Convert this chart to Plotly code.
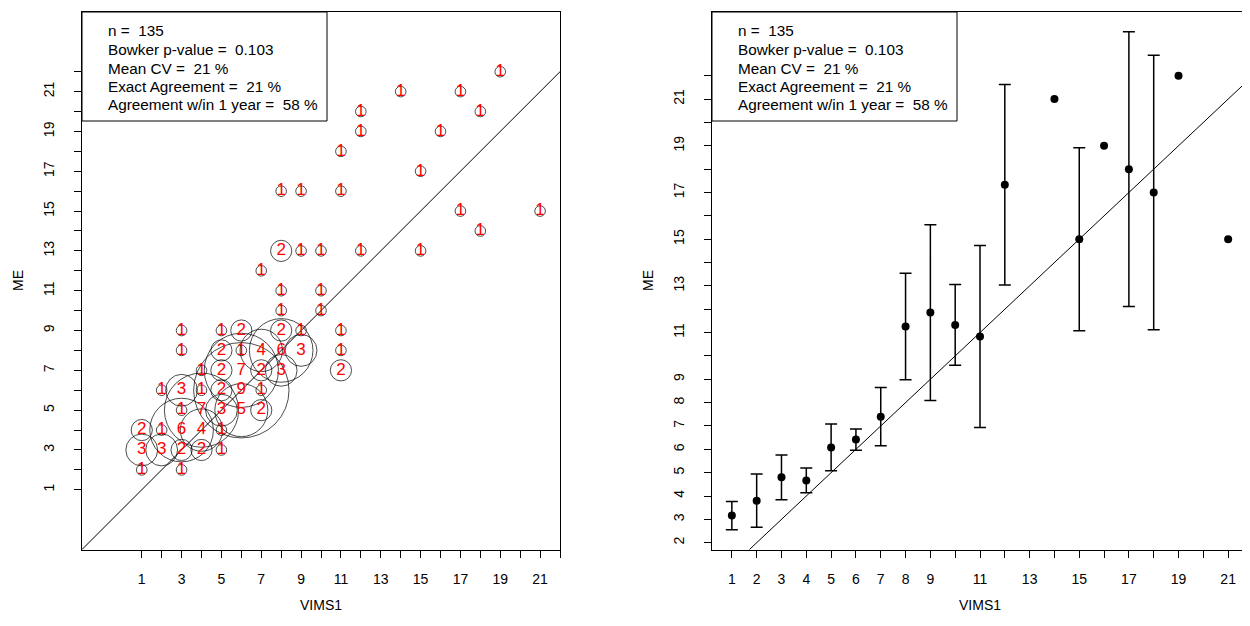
import plotly.graph_objects as go

W, H = 1250, 626
FONT = "Liberation Sans, Arial, sans-serif"
OFF = 8  # page body margin offset

# ---------------- Left panel: VIMS1 vs ME age pairs with counts ----------------
vims1 = [19, 14, 17, 12, 18, 12, 16, 11, 15, 8, 9, 11, 17, 21, 18, 8, 9, 10, 12, 15, 7, 8, 10, 8, 10,
         3, 5, 6, 8, 9, 11,
         3, 5, 6, 7, 8, 9, 11,
         4, 5, 6, 7, 8, 11,
         2, 3, 4, 5, 6, 7,
         3, 4, 5, 6, 7,
         1, 2, 3, 4, 5,
         1, 2, 3, 4, 5,
         1, 3]
me = [22, 21, 21, 20, 20, 19, 19, 18, 17, 16, 16, 16, 15, 15, 14, 13, 13, 13, 13, 13, 12, 11, 11, 10, 10,
      9, 9, 9, 9, 9, 9,
      8, 8, 8, 8, 8, 8, 8,
      7, 7, 7, 7, 7, 7,
      6, 6, 6, 6, 6, 6,
      5, 5, 5, 5, 5,
      4, 4, 4, 4, 4,
      3, 3, 3, 3, 3,
      2, 2]
n_pairs = [1, 1, 1, 1, 1, 1, 1, 1, 1, 1, 1, 1, 1, 1, 1, 2, 1, 1, 1, 1, 1, 1, 1, 1, 1,
           1, 1, 2, 2, 1, 1,
           1, 2, 1, 4, 6, 3, 1,
           1, 2, 7, 2, 3, 2,
           1, 3, 1, 2, 9, 1,
           1, 7, 3, 5, 2,
           2, 1, 6, 4, 1,
           3, 3, 2, 2, 1,
           1, 1]

# ---------------- Right panel: mean ME (95% CI) per VIMS1 age ----------------
ab_age = [1, 2, 3, 4, 5, 6, 7, 8, 9, 10, 11, 12, 15, 17, 18]
ab_mean = [3.17, 3.80, 4.80, 4.67, 6.08, 6.42, 7.40, 11.26, 11.86, 11.33, 10.83, 17.33, 15.0, 18.0, 17.0]
ab_lci = [2.56, 2.66, 3.84, 4.14, 5.08, 5.96, 6.15, 8.98, 8.09, 9.60, 6.93, 13.04, 11.08, 12.12, 11.12]
ab_uci = [3.77, 4.94, 5.76, 5.20, 7.09, 6.87, 8.65, 13.54, 15.62, 13.06, 14.73, 21.62, 18.92, 23.88, 22.88]
single_age = [14, 16, 19, 21]
single_me = [21, 19, 22, 15]

stats_lines = ["n =\u00a0 135", "Bowker p-value =\u00a0 0.103", "Mean CV =\u00a0 21 %",
               "Exact Agreement =\u00a0 21 %", "Agreement w/in 1 year =\u00a0 58 %"]

left_xrange = [-2, 22]
left_yrange = [-2, 25]
right_xrange = [0.2, 21.8]
right_yrange = [1.71, 24.73]

# pixel layout (screen coordinates)
L_x0, L_x1 = 82, 560
R_x0, R_x1 = 712, 1248
P_y0, P_y1 = 12, 549.5


def px(x):
    return (x - OFF) / W


def py(y):
    return 1 - (y - OFF) / H


fig = go.Figure()

# left: 1:1 line
fig.add_trace(go.Scatter(x=left_xrange, y=left_xrange, mode="lines",
                         line=dict(color="black", width=1), xaxis="x", yaxis="y",
                         hoverinfo="skip"))
# left: bubbles
fig.add_trace(go.Scatter(x=vims1, y=me, mode="markers", xaxis="x", yaxis="y",
                         marker=dict(symbol="circle-open", size=[10.6 * c for c in n_pairs],
                                     color="black", line=dict(width=1))))
fig.add_trace(go.Scatter(x=vims1, y=me, mode="text", text=[str(c) for c in n_pairs],
                         textposition="middle center", xaxis="x", yaxis="y",
                         textfont=dict(family=FONT, size=17, color="red")))

# right: 1:1 line
fig.add_trace(go.Scatter(x=right_xrange, y=right_xrange, mode="lines",
                         line=dict(color="black", width=1), xaxis="x2", yaxis="y2",
                         hoverinfo="skip"))
fig.add_trace(go.Scatter(
    x=ab_age, y=ab_mean, mode="markers", xaxis="x2", yaxis="y2",
    marker=dict(color="black", size=8),
    error_y=dict(type="data", symmetric=False,
                 array=[u - m for u, m in zip(ab_uci, ab_mean)],
                 arrayminus=[m - l for m, l in zip(ab_mean, ab_lci)],
                 color="black", thickness=1.5, width=6)))
fig.add_trace(go.Scatter(x=single_age, y=single_me, mode="markers", xaxis="x2", yaxis="y2",
                         marker=dict(color="black", size=8)))

axis_common = dict(showline=True, mirror=True, linecolor="black", linewidth=1,
                   ticks="outside", ticklen=7, tickwidth=1, tickcolor="black",
                   showgrid=False, zeroline=False, automargin=False,
                   tickfont=dict(family=FONT, size=14, color="black"))


def odd_labels(vals):
    return [str(v) if v % 2 == 1 else "" for v in vals]


def ab_labels(vals):
    return [str(v) if (v <= 9 or v % 2 == 1) else "" for v in vals]


lt = list(range(1, 23))
rx = list(range(1, 22))
ry = list(range(2, 23))

fig.update_layout(
    width=W, height=H, template="none",
    paper_bgcolor="white", plot_bgcolor="white",
    margin=dict(l=0, r=0, t=0, b=0), showlegend=False,
    font=dict(family=FONT, size=14, color="black"),
    xaxis=dict(domain=[px(L_x0), px(L_x1)], range=left_xrange, tickvals=lt,
               ticktext=odd_labels(lt), ticklabelstandoff=10, anchor="y", **axis_common),
    yaxis=dict(domain=[py(P_y1), py(P_y0)], range=left_yrange, tickvals=lt,
               ticktext=odd_labels(lt), tickangle=-90, ticklabelstandoff=14, anchor="x",
               **axis_common),
    xaxis2=dict(domain=[px(R_x0), px(R_x1)], range=right_xrange, tickvals=rx,
                ticktext=ab_labels(rx), ticklabelstandoff=10, anchor="y2", **axis_common),
    yaxis2=dict(domain=[py(P_y1), py(P_y0)], range=right_yrange, tickvals=ry,
                ticktext=ab_labels(ry), tickangle=-90, ticklabelstandoff=14, anchor="x2",
                **axis_common),
)

# legend-like stats boxes (white, covering data beneath)
box_h = (121 - P_y0) / (P_y1 - P_y0)
for xr, yr, wfrac in [("x domain", "y domain", (327 - L_x0) / (L_x1 - L_x0)),
                      ("x2 domain", "y2 domain", (957 - R_x0) / (R_x1 - R_x0))]:
    fig.add_shape(type="rect", xref=xr, yref=yr, x0=0, x1=wfrac, y0=1 - box_h, y1=1,
                  line=dict(color="black", width=1), fillcolor="white", layer="above")

line_y = [31, 49.5, 68, 86.5, 105]
for x_start in [105.5, 735.5]:
    for txt, yy in zip(stats_lines, line_y):
        fig.add_annotation(text=txt, xref="paper", yref="paper", x=px(x_start), y=py(yy),
                           xanchor="left", yanchor="middle", showarrow=False,
                           font=dict(family=FONT, size=15.3, color="black"))

# axis titles
for xc in [(L_x0 + L_x1) / 2, (R_x0 + R_x1) / 2]:
    fig.add_annotation(text="VIMS1", xref="paper", yref="paper", x=px(xc), y=py(605),
                       xanchor="center", yanchor="middle", showarrow=False,
                       font=dict(family=FONT, size=14, color="black"))
for xc in [18, 648]:
    fig.add_annotation(text="ME", xref="paper", yref="paper", x=px(xc), y=py(281),
                       xanchor="center", yanchor="middle", showarrow=False, textangle=-90,
                       font=dict(family=FONT, size=14, color="black"))

fig.write_html("out.html")
